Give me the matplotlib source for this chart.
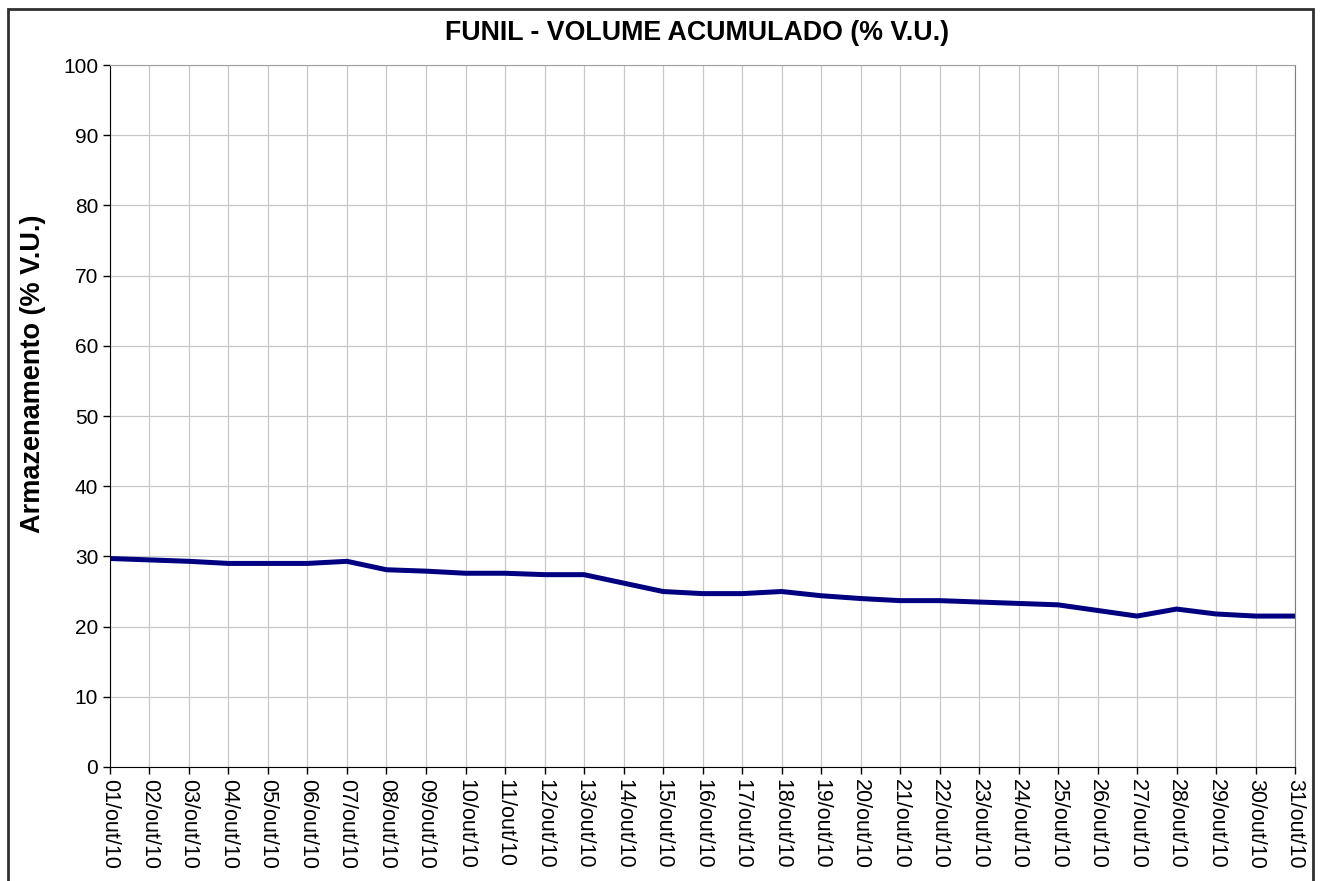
import matplotlib.pyplot as plt
import matplotlib.patches as mpatches

plt.rcParams['font.family'] = ['Liberation Sans', 'DejaVu Sans']

# daily storage of Funil reservoir, October 2010
days = list(range(1, 32))
day_labels = ["%02d/out/10" % d for d in days]
volume = [29.7, 29.5, 29.3, 29.0, 29.0, 29.0, 29.3, 28.1, 27.9, 27.6,
          27.6, 27.4, 27.4, 26.2, 25.0, 24.7, 24.7, 25.0, 24.4, 24.0,
          23.7, 23.7, 23.5, 23.3, 23.1, 22.3, 21.5, 22.5, 21.8, 21.5,
          21.5]
y_ticks = list(range(0, 101, 10))

fig = plt.figure(figsize=(13.22, 8.81), dpi=100)
ax = fig.add_axes([0.0832, 0.1294, 0.8964, 0.7968])

ax.plot(days, volume, color="#000080", linewidth=3.6, solid_joinstyle="round")

ax.set_xlim(days[0], days[-1])
ax.set_ylim(0, 100)
ax.set_xticks(days)
ax.set_xticklabels(day_labels, rotation=270, fontsize=15.5)
ax.set_yticks(y_ticks)
ax.tick_params(axis="y", labelsize=15)
ax.tick_params(direction="out", length=5, width=1, color="black")
ax.grid(True, color="#c8c8c8", linewidth=0.9)
ax.set_axisbelow(True)

ax.spines["left"].set_color("black")
ax.spines["bottom"].set_color("black")
ax.spines["top"].set_color("#a0a0a0")
ax.spines["right"].set_color("#808080")

ax.set_ylabel("Armazenamento (% V.U.)", fontsize=19.5, fontweight="bold")
ax.yaxis.set_label_coords(-0.054, 0.56)
fig.text(697 / 1322, 1 - 33 / 881, "FUNIL - VOLUME ACUMULADO (% V.U.)",
         ha="center", va="center", fontsize=19.3, fontweight="bold")

# outer frame of the chart (bottom edge is cut off)
frame = mpatches.Rectangle((8 / 1322, -0.05), (1313 - 8) / 1322, 1.05 - 9 / 881,
                           transform=fig.transFigure, fill=False,
                           edgecolor="#303030", linewidth=2, clip_on=False)
fig.patches.append(frame)

fig.savefig("out.png", dpi=100)
